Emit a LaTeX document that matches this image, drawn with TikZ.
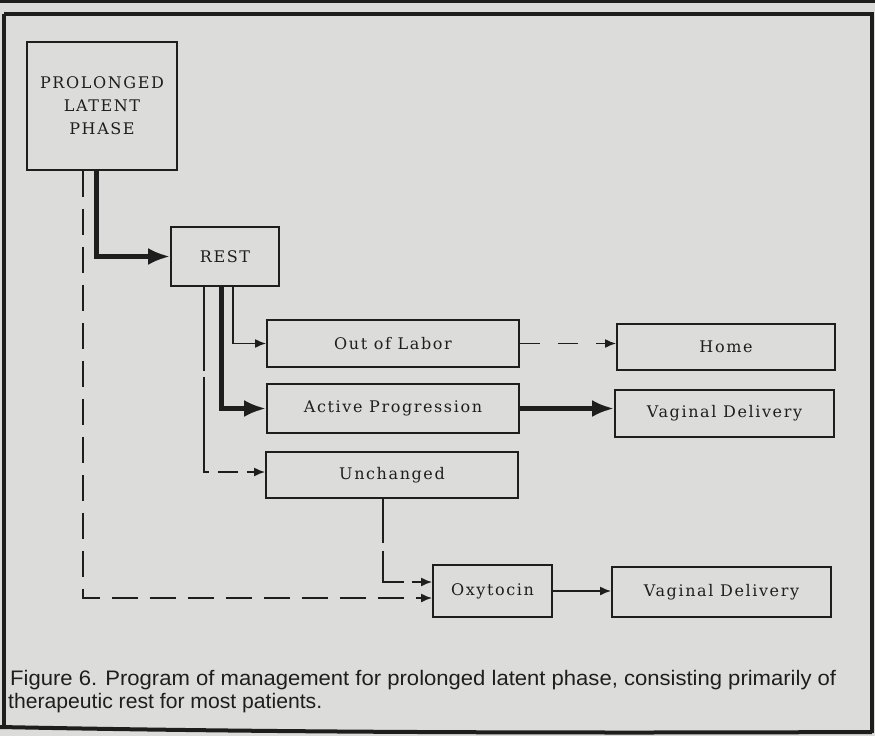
\documentclass[tikz,border=0pt]{standalone}
\usepackage{fontspec}
\newfontfamily\capfont{Liberation Sans}
\newfontfamily\boxfont[LetterSpace=10]{DejaVu Serif}
\usetikzlibrary{arrows.meta}
\definecolor{paper}{HTML}{DCDCDA}
\definecolor{ink}{HTML}{1E1E1E}
\tikzset{
  box/.style={draw=ink, line width=1.8pt, minimum width=#1, inner sep=0pt, font=\boxfont\fontsize{16}{23}\selectfont, align=center, text=ink},
  thinarrow/.style={draw=ink, line width=1.8pt, -{Latex[length=11pt,width=9pt]}},
  thickarrow/.style={draw=ink, line width=5pt, -{Latex[length=22pt,width=17pt]}},
  dasharrow/.style={draw=ink, line width=1.8pt, dash pattern=on 24pt off 11pt, -{Latex[length=11pt,width=9pt]}},
}
\begin{document}
\begin{tikzpicture}[x=1pt,y=-1pt]
\useasboundingbox (0,0) rectangle (875,736);
\fill[paper] (0,0) rectangle (875,736);
\draw[ink, line width=3pt] (0,1) -- (875,1);
\draw[ink, line width=3.5pt] (4,14) -- (872,14) -- (872,733);
\draw[ink, line width=3.5pt] (4,14) -- (4,726);
\draw[ink, line width=4pt] (0,727) .. controls (300,733) and (600,733) .. (872,732);

\node[box=150pt, minimum height=128pt] (plp) at (102,106) {PROLONGED\\LATENT\\PHASE};
\node[box=108pt, minimum height=59pt] (rest) at (225,256.5) {REST};
\node[box=252pt, minimum height=47pt] (out) at (393,343.5) {Out of Labor};
\node[box=252pt, minimum height=49pt] (act) at (393,408.5) {Active Progression};
\node[box=252pt, minimum height=46pt] (unch) at (392,475) {Unchanged};
\node[box=218pt, minimum height=46pt] (home) at (726,347) {Home};
\node[box=219pt, minimum height=47pt] (vd1) at (724.5,413.5) {Vaginal Delivery};
\node[box=119pt, minimum height=52pt] (oxy) at (492.5,591) {Oxytocin};
\node[box=219pt, minimum height=50pt] (vd2) at (721.5,592) {Vaginal Delivery};

\draw[thickarrow] ([xshift=-6pt]plp.south) |- (rest.west);
\draw[dasharrow, dash pattern=on 26pt off 12pt] ([xshift=-19pt]plp.south) |- ([yshift=-7pt]oxy.west);
\draw[thinarrow] ([xshift=8pt]rest.south) |- (out.west);
\draw[thickarrow] ([xshift=-4pt]rest.south) |- (act.west);
\draw[dasharrow, dash pattern=on 84pt off 6pt on 100pt off 9pt on 20pt off 9pt] ([xshift=-21pt]rest.south) |- ([yshift=3pt]unch.west);
\draw[dasharrow, dash pattern=on 20pt off 18pt] (out.east) -- (out.east -| home.west);
\draw[thickarrow] (act.east) -- (act.east -| vd1.west);
\draw[dasharrow, dash pattern=on 44pt off 8pt on 52pt off 8pt] ([xshift=-9pt]unch.south) |- ([yshift=9pt]oxy.west);
\draw[thinarrow] (oxy.east) -- (oxy.east -| vd2.west);

\node[anchor=base west, inner sep=0pt, font=\capfont\fontsize{21}{24}\selectfont, text=ink] (cap1) at (10,685) {\resizebox{826pt}{\height}{Figure 6. Program of management for prolonged latent phase, consisting primarily of}};
\node[anchor=base west, inner sep=0pt, font=\capfont\fontsize{21}{24}\selectfont, text=ink] (cap2) at (8,708) {\resizebox{314pt}{\height}{therapeutic rest for most patients.}};
\end{tikzpicture}
\end{document}
